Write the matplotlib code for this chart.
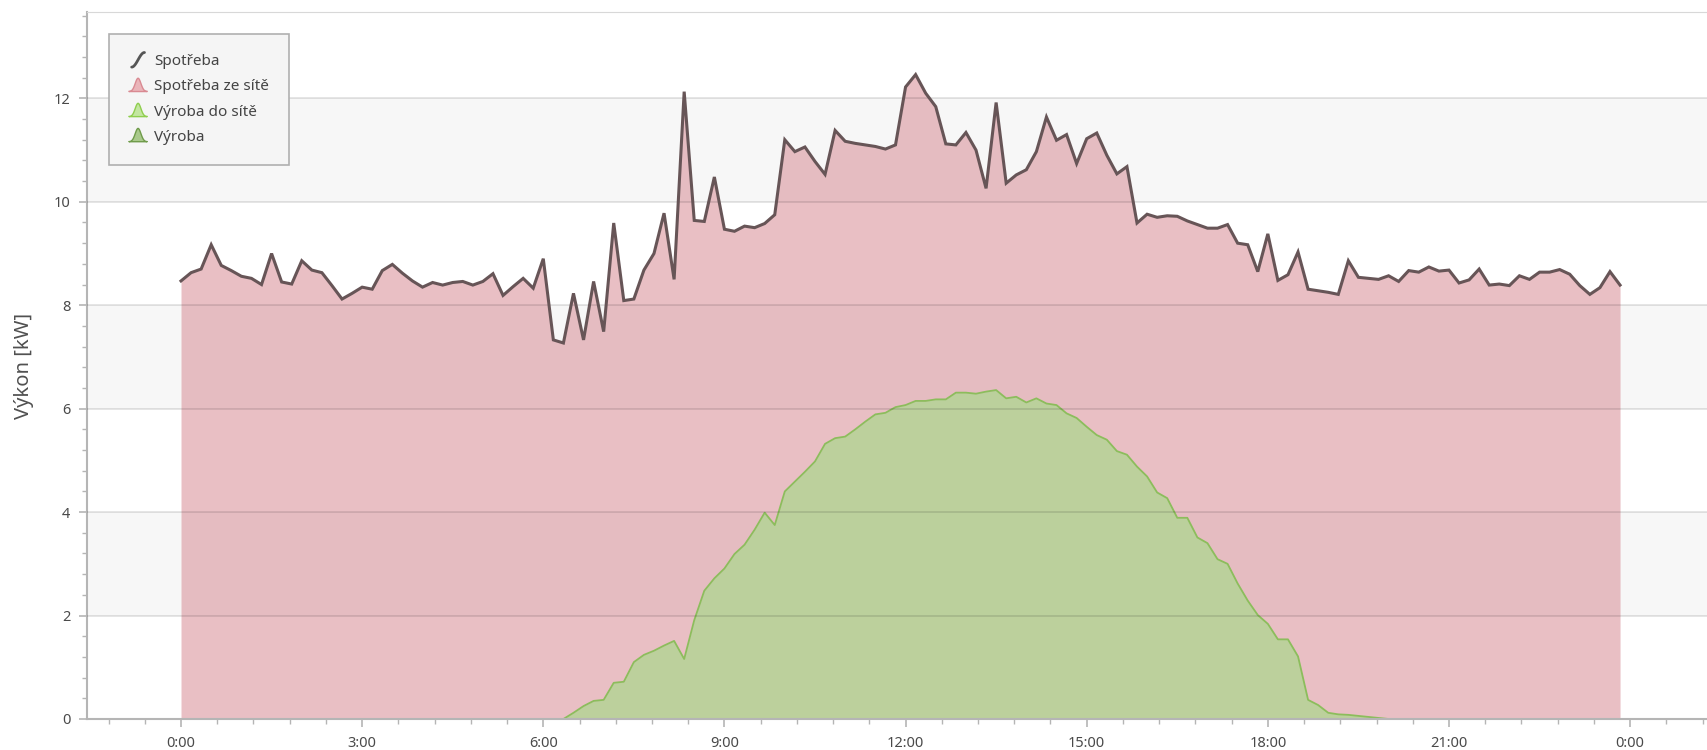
import numpy as np
import matplotlib
matplotlib.use("Agg")
import matplotlib.pyplot as plt
from matplotlib.ticker import MultipleLocator, FuncFormatter
from matplotlib.legend_handler import HandlerBase
from matplotlib.patches import Polygon, Patch
from matplotlib.lines import Line2D

plt.rcParams['font.family'] = ['Noto Sans', 'DejaVu Sans']

# ---- data (10-minute samples, 0:00 .. 23:50) ----
minutes = list(range(0, 1440, 10))

spotreba = [
    8.47, 8.63, 8.70, 9.17, 8.77, 8.67, 8.56, 8.52, 8.40, 9.00, 8.45, 8.41,
    8.86, 8.68, 8.63, 8.38, 8.12, 8.23, 8.35, 8.31, 8.67, 8.79, 8.62, 8.47,
    8.35, 8.44, 8.39, 8.44, 8.46, 8.39, 8.46, 8.61, 8.19, 8.36, 8.52, 8.33,
    8.90, 7.33, 7.27, 8.23, 7.33, 8.46, 7.49, 9.59, 8.09, 8.12, 8.68, 9.00,
    9.78, 8.50, 12.13, 9.64, 9.62, 10.48, 9.47, 9.43, 9.53, 9.50, 9.58, 9.75,
    11.20, 10.97, 11.06, 10.78, 10.53, 11.38, 11.17, 11.13, 11.10, 11.07, 11.02, 11.10,
    12.22, 12.46, 12.10, 11.84, 11.12, 11.10, 11.34, 11.00, 10.26, 11.92, 10.36, 10.52,
    10.62, 10.97, 11.64, 11.19, 11.30, 10.74, 11.22, 11.33, 10.90, 10.54, 10.68, 9.59,
    9.76, 9.70, 9.73, 9.72, 9.63, 9.56, 9.49, 9.49, 9.56, 9.20, 9.17, 8.65,
    9.38, 8.48, 8.59, 9.03, 8.31, 8.28, 8.25, 8.21, 8.86, 8.54, 8.52, 8.50,
    8.57, 8.46, 8.67, 8.64, 8.74, 8.66, 8.68, 8.43, 8.49, 8.70, 8.39, 8.41,
    8.38, 8.57, 8.50, 8.64, 8.64, 8.69, 8.60, 8.38, 8.21, 8.34, 8.65, 8.39,
]

vyroba = [0.0] * 38 + [
    0.00, 0.12, 0.25, 0.35, 0.37, 0.70, 0.72, 1.10, 1.24, 1.32, 1.42, 1.51,
    1.16, 1.91, 2.48, 2.72, 2.91, 3.19, 3.37, 3.66, 3.99, 3.75, 4.40, 4.59,
    4.78, 4.98, 5.32, 5.43, 5.46, 5.60, 5.75, 5.89, 5.92, 6.03, 6.07, 6.15,
    6.15, 6.18, 6.18, 6.31, 6.31, 6.29, 6.33, 6.36, 6.20, 6.23, 6.12, 6.20,
    6.10, 6.07, 5.91, 5.82, 5.65, 5.49, 5.40, 5.18, 5.11, 4.88, 4.69, 4.38,
    4.27, 3.89, 3.89, 3.51, 3.40, 3.09, 3.00, 2.62, 2.29, 2.01, 1.84, 1.54,
    1.54, 1.21, 0.37, 0.27, 0.12, 0.09, 0.08, 0.06, 0.04, 0.02,
] + [0.0] * 24

labels = ["Spotřeba", "Spotřeba ze sítě", "Výroba do sítě", "Výroba"]
y_label = "Výkon [kW]"

hours = np.array(minutes) / 60.0
cons = np.array(spotreba)
gen = np.array(vyroba)

# ---- figure ----
fig = plt.figure(figsize=(17.08, 7.5), dpi=100)
ax = fig.add_axes([87 / 1708, 1 - 719 / 750, 1 - 87 / 1708, (719 - 12) / 750])

ax.set_xlim(-1.557, 25.29)
ax.set_ylim(0, 13.67)

# alternating bands
for lo in (2, 6, 10):
    ax.axhspan(lo, lo + 2, color='#f7f7f7', zorder=0, lw=0)

ax.fill_between(hours, 0, cons, color='#d78c95', alpha=0.55, lw=0, zorder=1)
ax.fill_between(hours, 0, gen, color='#b4d496', alpha=0.85, lw=0, zorder=2)
ax.plot(hours, gen, color='#8cbd5c', lw=1.3, zorder=2.5)

for yv in range(2, 14, 2):
    ax.axhline(yv, color='black', alpha=0.12, lw=1.2, zorder=3)

ax.plot(hours, cons, color='#675557', lw=2.2, zorder=4, solid_joinstyle='miter')

# axes styling
ax.spines['right'].set_visible(False)
ax.spines['top'].set_color('#d8d8d8')
ax.spines['left'].set_color('#b5b5b5')
ax.spines['bottom'].set_color('#b5b5b5')
ax.spines['left'].set_linewidth(1.5)
ax.spines['bottom'].set_linewidth(1.5)

ax.yaxis.set_major_locator(MultipleLocator(2))
ax.yaxis.set_minor_locator(MultipleLocator(0.4))
ax.xaxis.set_major_locator(MultipleLocator(3))
ax.xaxis.set_minor_locator(MultipleLocator(0.6))
ax.xaxis.set_major_formatter(FuncFormatter(lambda x, p: f"{int(round(x)) % 24}:00"))
ax.yaxis.set_major_formatter(FuncFormatter(lambda y, p: f"{int(round(y))}"))

ax.tick_params(axis='both', which='major', length=6, width=1.2, color='#b5b5b5',
               labelsize=10.5, labelcolor='#4a4a4a', pad=6)
ax.tick_params(axis='both', which='minor', length=3.5, width=1.0, color='#b5b5b5')

ax.set_ylabel(y_label, fontsize=14.5, color='#505050', labelpad=14)


# ---- legend ----
class PeakHandler(HandlerBase):
    def __init__(self, face, edge):
        super().__init__()
        self.face = face
        self.edge = edge

    def create_artists(self, legend, orig_handle, xdescent, ydescent, width, height, fontsize, trans):
        s = np.linspace(0, 1, 40)
        yy = np.exp(-((s - 0.5) / 0.22) ** 2)
        x0, w = -xdescent, width
        y0, h = -ydescent, height * 1.05
        pts = np.column_stack([x0 + s * w, y0 + yy * h])
        pts = np.vstack([[x0, y0], pts, [x0 + w, y0]])
        poly = Polygon(pts, closed=True, facecolor=self.face, edgecolor=self.edge,
                       lw=1.0, transform=trans)
        return [poly]


class CurveHandler(HandlerBase):
    def create_artists(self, legend, orig_handle, xdescent, ydescent, width, height, fontsize, trans):
        s = np.linspace(0, 1, 30)
        x0, w = -xdescent + width * 0.15, width * 0.7
        y0, h = -ydescent - height * 0.05, height * 1.15
        xx = x0 + s * w
        yy = y0 + (0.5 - 0.5 * np.cos(np.pi * s)) * h
        ln = Line2D(xx, yy, color='#555555', lw=2.0, transform=trans, solid_capstyle='round')
        return [ln]


h1 = Line2D([], [])
h2 = Patch()
h3 = Patch()
h4 = Patch()
leg = ax.legend([h1, h2, h3, h4], labels, loc='upper left',
                bbox_to_anchor=(0.0136, 0.969), borderaxespad=0,
                handler_map={h1: CurveHandler(),
                             h2: PeakHandler('#eab4b9', '#d98a92'),
                             h3: PeakHandler('#c3e6a0', '#8fce4e'),
                             h4: PeakHandler('#a9c98b', '#6f9b4a')},
                fontsize=11, frameon=True, fancybox=False,
                handlelength=1.2, handleheight=0.9, handletextpad=0.45,
                labelspacing=0.62, borderpad=1.3)
fr = leg.get_frame()
fr.set_facecolor('#f5f5f5')
fr.set_edgecolor('#b0b0b0')
fr.set_alpha(1)
fr.set_linewidth(1.2)
for t in leg.get_texts():
    t.set_color('#444444')
leg.set_zorder(10)

fig.savefig("out.png", dpi=100)
